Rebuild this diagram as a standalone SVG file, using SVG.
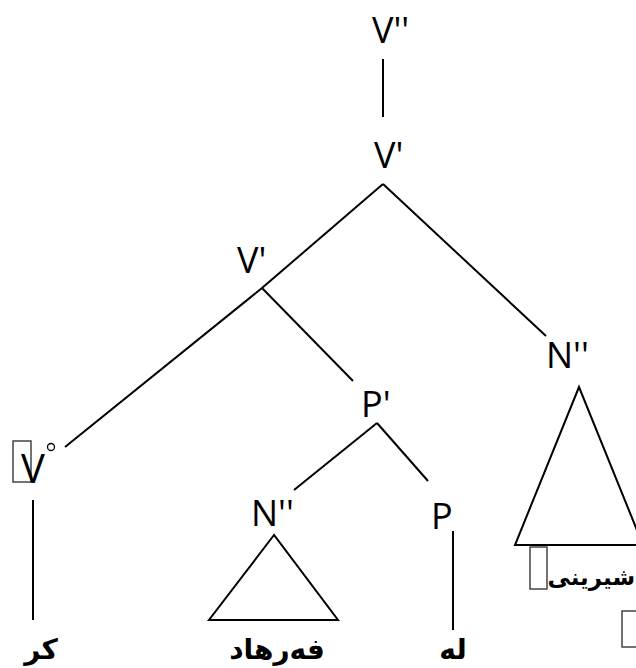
<svg xmlns="http://www.w3.org/2000/svg" width="636" height="668" viewBox="0 0 636 668">
<style>
.lbl{font-family:"Open Sans","Liberation Sans",sans-serif;font-size:36px;fill:#000}
.word{font-family:"DejaVu Sans",sans-serif;font-weight:bold;font-size:28px;fill:#000}
.ln{stroke:#000;stroke-width:2;fill:none}
.box{stroke:#444;stroke-width:1.5;fill:none}
</style>
<rect width="636" height="668" fill="#fff"/>
<g id="connectors">
<line class="ln" x1="383" y1="59" x2="383" y2="117"/>
<polyline class="ln" points="383,184 262,288 65,447"/>
<line class="ln" x1="383" y1="184" x2="546" y2="336"/>
<line class="ln" x1="262" y1="288" x2="353" y2="381"/>
<line class="ln" x1="377" y1="423" x2="294" y2="490"/>
<line class="ln" x1="377" y1="423" x2="428" y2="481"/>
<line class="ln" x1="33" y1="500" x2="33" y2="620"/>
<line class="ln" x1="453" y1="531" x2="453" y2="630"/>
</g>
<g id="n-Vbar2"><text class="lbl" x="372" y="43">V''</text></g>
<g id="n-Vbar1"><text class="lbl" x="374" y="168">V'</text></g>
<g id="n-Vbar1b"><text class="lbl" x="237" y="273">V'</text></g>
<g id="n-N2-right">
<text class="lbl" x="546" y="368">N''</text>
<polygon class="ln" points="579,387 515,545 643,545"/>
<rect class="box" x="530" y="547" width="17" height="42"/>
<text class="word" x="635" y="585" text-anchor="end" style="font-size:23px">شیرینی</text>
<rect class="box" x="622" y="611" width="20" height="36"/>
</g>
<g id="n-Pbar"><text class="lbl" x="361" y="417">P'</text></g>
<g id="n-V0">
<rect class="box" x="13" y="441" width="18" height="41"/>
<text class="lbl" x="21" y="483" style="font-size:40px">V</text>
<circle cx="51" cy="447" r="3.5" fill="none" stroke="#000" stroke-width="1.3"/>
</g>
<g id="n-kr"><text class="word" x="41" y="659" text-anchor="middle">کر</text></g>
<g id="n-N2-low">
<text class="lbl" x="251" y="526">N''</text>
<polygon class="ln" points="274,535 209,620 338,620"/>
<text class="word" x="277" y="659" text-anchor="middle">فەرهاد</text>
</g>
<g id="n-P">
<text class="lbl" x="431" y="529">P</text>
<text class="word" x="453" y="659" text-anchor="middle">له</text>
</g>
</svg>
